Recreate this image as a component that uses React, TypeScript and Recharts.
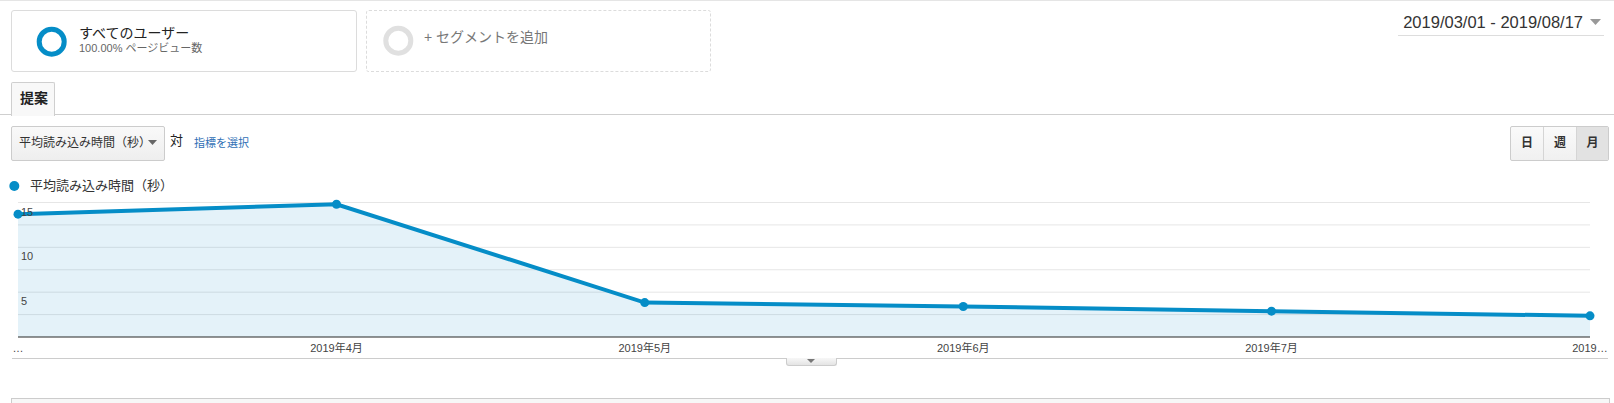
import React from 'react';
import { AreaChart, Area, XAxis, YAxis, CartesianGrid } from 'recharts';

const months = ['2019-03-01', '2019-04-01', '2019-05-01', '2019-06-01', '2019-07-01', '2019-08-01'];
const loadTimes = [13.7, 14.8, 3.84, 3.4, 2.88, 2.36];
const xTickLabels = ['…', '2019年4月', '2019年5月', '2019年6月', '2019年7月', '2019…'];
const yTicks = [0, 2.5, 5, 7.5, 10, 12.5, 15];
const yLabelTicks = [5, 10, 15];
const seriesName = '平均読み込み時間（秒）';

const data = months.map((m, i) => ({ t: Date.parse(m + 'T00:00:00Z'), v: loadTimes[i] }));
const xTicks = data.map((d) => d.t);

const FONT = '"Liberation Sans", Arial, "Noto Sans CJK JP", sans-serif';
const BLUE = '#058dc7';

const XTick = (props: any) => {
  const { x, y, payload } = props;
  const idx = xTicks.indexOf(payload.value);
  return (
    <text x={x} y={y + 15} textAnchor="middle" fontSize={11} fill="#444" fontFamily={FONT}>
      {idx >= 0 ? xTickLabels[idx] : ''}
    </text>
  );
};

const YTick = (props: any) => {
  const { x, y, payload } = props;
  const v = Number(payload && payload.value);
  if (!yLabelTicks.includes(v)) return <g />;
  return (
    <text x={x} y={y + 13} textAnchor="start" fontSize={11} fill="#444" fontFamily={FONT}>
      {v}
    </text>
  );
};

const abs = (s: React.CSSProperties): React.CSSProperties => ({ position: 'absolute', ...s });

export default function App() {
  return (
    <div style={abs({ left: 0, top: 0, width: 1614, height: 403, background: '#fff', fontFamily: FONT, overflow: 'hidden' })}>
      {/* top line */}
      <div style={abs({ left: 0, top: 0, width: 1614, height: 1, background: '#e5e5e5' })} />

      {/* segment 1 */}
      <div style={abs({ left: 11, top: 10, width: 344, height: 60, border: '1px solid #dcdcdc', borderRadius: 3 })} />
      <svg style={abs({ left: 36, top: 26 })} width={32} height={32}>
        <circle cx={15.7} cy={15.7} r={12.5} fill="none" stroke={BLUE} strokeWidth={5} />
      </svg>
      <div style={abs({ left: 79, top: 23, fontSize: 14, lineHeight: '20px', color: '#222', whiteSpace: 'nowrap' })}>すべてのユーザー</div>
      <div style={abs({ left: 79, top: 41, fontSize: 11, lineHeight: '14px', color: '#666', whiteSpace: 'nowrap' })}>100.00% ページビュー数</div>

      {/* segment 2 */}
      <div style={abs({ left: 366, top: 10, width: 343, height: 60, border: '1px dashed #dcdcdc', borderRadius: 3 })} />
      <svg style={abs({ left: 382, top: 25 })} width={32} height={32}>
        <circle cx={16.3} cy={15.7} r={12.5} fill="none" stroke="#e0e0e0" strokeWidth={5} />
      </svg>
      <div style={abs({ left: 424, top: 27, fontSize: 14, lineHeight: '20px', color: '#777', whiteSpace: 'nowrap' })}>+ セグメントを追加</div>

      {/* date range */}
      <div style={abs({ right: 31, top: 12, fontSize: 16.5, lineHeight: '21px', color: '#333', whiteSpace: 'nowrap' })}>2019/03/01 - 2019/08/17</div>
      <svg style={abs({ left: 1590, top: 19 })} width={12} height={8}>
        <polygon points="0,0 11,0 5.5,6" fill="#999" />
      </svg>
      <div style={abs({ left: 1398, top: 35, width: 206, height: 1, background: '#ddd' })} />

      {/* tab line + tab */}
      <div style={abs({ left: 0, top: 114, width: 1614, height: 1, background: '#cfcfcf' })} />
      <div style={abs({ left: 11, top: 82, width: 42, height: 33, border: '1px solid #cfcfcf', borderBottom: 'none', background: '#f8f8f8', borderRadius: '2px 2px 0 0' })} />
      <div style={abs({ left: 20, top: 89, fontSize: 14, lineHeight: '18px', fontWeight: 'bold', color: '#222' })}>提案</div>

      {/* metric dropdown */}
      <div style={abs({ left: 11, top: 126, width: 152, height: 33, border: '1px solid #cccccc', borderRadius: 2, background: 'linear-gradient(#f9f9f9, #eeeeee)' })} />
      <div style={abs({ left: 19, top: 135, fontSize: 12, lineHeight: '16px', color: '#333', whiteSpace: 'nowrap' })}>{seriesName}</div>
      <svg style={abs({ left: 148, top: 140 })} width={10} height={6}>
        <polygon points="0,0 9,0 4.5,5" fill="#666" />
      </svg>
      <div style={abs({ left: 170, top: 132, fontSize: 13, lineHeight: '17px', color: '#222' })}>対</div>
      <div style={abs({ left: 194, top: 135, fontSize: 11, lineHeight: '16px', color: '#2f6fb5', whiteSpace: 'nowrap' })}>指標を選択</div>

      {/* day/week/month buttons */}
      <div style={abs({ left: 1510, top: 126, width: 97, height: 33, border: '1px solid #cccccc', borderRadius: 2, background: 'linear-gradient(#fafafa, #f0f0f0)', display: 'flex', overflow: 'hidden' })}>
        <div style={{ width: 32, textAlign: 'center', lineHeight: '33px', fontSize: 12, fontWeight: 'bold', color: '#333', borderRight: '1px solid #d5d5d5' }}>日</div>
        <div style={{ width: 32, textAlign: 'center', lineHeight: '33px', fontSize: 12, fontWeight: 'bold', color: '#333', borderRight: '1px solid #d5d5d5' }}>週</div>
        <div style={{ flex: 1, textAlign: 'center', lineHeight: '33px', fontSize: 12, fontWeight: 'bold', color: '#333', background: '#e2e2e2' }}>月</div>
      </div>

      {/* legend */}
      <svg style={abs({ left: 8, top: 180 })} width={14} height={14}>
        <circle cx={6.3} cy={6} r={5} fill={BLUE} />
      </svg>
      <div style={abs({ left: 30, top: 177, fontSize: 13, lineHeight: '18px', color: '#333', whiteSpace: 'nowrap' })}>{seriesName}</div>

      {/* chart */}
      <div style={abs({ left: 0, top: 0 })}>
        <AreaChart width={1614} height={403} data={data} margin={{ top: 202.5, right: 24, bottom: 46, left: 18 }}>
          <CartesianGrid horizontal vertical={false} stroke="#e6e6e6" />
          <Area
            type="linear"
            dataKey="v"
            stroke={BLUE}
            strokeWidth={4}
            fill={BLUE}
            fillOpacity={0.11}
            dot={{ r: 4.5, fill: BLUE, fillOpacity: 1, stroke: BLUE, strokeWidth: 0 }}
            activeDot={false}
            isAnimationActive={false}
          />
          <XAxis
            dataKey="t"
            type="number"
            scale="time"
            domain={['dataMin', 'dataMax']}
            ticks={xTicks}
            height={20}
            tickSize={0}
            tickMargin={0}
            tickLine={false}
            axisLine={{ stroke: '#333', strokeWidth: 1 }}
            tick={<XTick />}
            interval={0}
          />
          <YAxis
            type="number"
            domain={[0, 15]}
            ticks={yTicks}
            mirror
            width={40}
            tickSize={0}
            tickMargin={3}
            axisLine={false}
            tickLine={false}
            tick={<YTick />}
            interval={0}
          />
        </AreaChart>
      </div>

      {/* bottom separator & toggle */}
      <div style={abs({ left: 12, top: 358, width: 1596, height: 1, background: '#cccccc' })} />
      <div style={abs({ left: 786, top: 358, width: 49, height: 7, border: '1px solid #cccccc', borderTop: 'none', borderRadius: '0 0 3px 3px', background: 'linear-gradient(#f7f7f7, #e4e4e4)' })} />
      <svg style={abs({ left: 807, top: 359 })} width={9} height={5}>
        <polygon points="0,0 8,0 4,4" fill="#777" />
      </svg>

      {/* bottom panel */}
      <div style={abs({ left: 11, top: 398, width: 1597, height: 20, border: '1px solid #cccccc', background: '#f7f7f7' })} />
    </div>
  );
}
